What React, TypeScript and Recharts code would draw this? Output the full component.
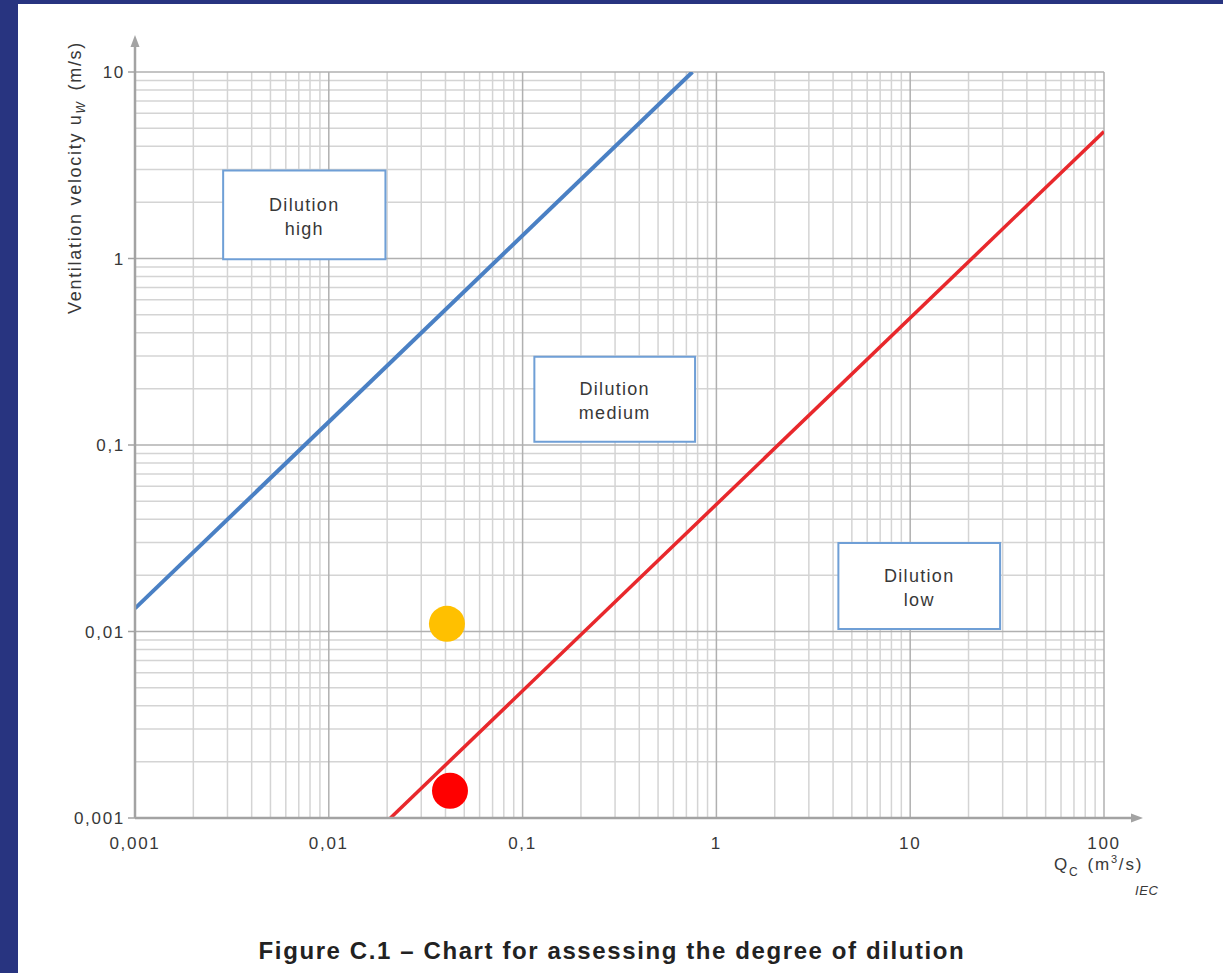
import React from 'react';
import { ComposedChart, Line, Scatter, XAxis, YAxis, ReferenceLine, ReferenceArea, CartesianGrid } from 'recharts';

// ---- data ----
const xDecades = [0.001, 0.01, 0.1, 1, 10, 100];
const xTickLabels = ['0,001', '0,01', '0,1', '1', '10', '100'];
const yDecades = [0.001, 0.01, 0.1, 1, 10];
const yTickLabels = ['0,001', '0,01', '0,1', '1', '10'];
const minorSteps = [2, 3, 4, 5, 6, 7, 8, 9];

// boundary high / medium dilution
const highDilutionLimit = [
  { q: 0.001, u: 0.0133 },
  { q: 0.752, u: 10 },
];
// boundary medium / low dilution
const lowDilutionLimit = [
  { q: 0.0208, u: 0.001 },
  { q: 100, u: 4.8 },
];
const caseOrange = [{ q: 0.0407, u: 0.011 }];
const caseRed = [{ q: 0.0422, u: 0.0014 }];

const zoneNames = [
  ['Dilution', 'high'],
  ['Dilution', 'medium'],
  ['Dilution', 'low'],
];
const zoneQ = [
  [0.00285, 0.0196],
  [0.115, 0.776],
  [4.26, 29.1],
];
const zoneU = [
  [0.99, 2.96],
  [0.104, 0.297],
  [0.0103, 0.0298],
];

// axis arrow tips (data units, just outside the domain)
const yArrowTip = 15.8;
const xArrowTip = 159;

// ---- helpers ----
const FONT = 'Liberation Sans, Arial, sans-serif';
const TXT = '#383838';
const X_DOMAIN = [0.001, 100];
const Y_DOMAIN = [0.001, 10];
const xMinor = xDecades.slice(0, -1).flatMap((d) => minorSteps.map((s) => +(d * s).toPrecision(3)));
const yMinor = yDecades.slice(0, -1).flatMap((d) => minorSteps.map((s) => +(d * s).toPrecision(3)));

const labelFor = (vals: number[], labels: string[], v: number) => {
  const i = vals.findIndex((d) => Math.abs(d - v) / d < 1e-6);
  return i >= 0 ? labels[i] : '';
};

const logPos = (v: number, dom: number[], start: number, size: number, invert: boolean) => {
  const t = (Math.log10(v) - Math.log10(dom[0])) / (Math.log10(dom[1]) - Math.log10(dom[0]));
  return invert ? start + size * (1 - t) : start + size * t;
};

const vGen = (vals: number[]) => (p: any) => {
  const sc = p && p.xAxis && typeof p.xAxis.scale === 'function' ? p.xAxis.scale : null;
  return vals.map((v) => (sc ? sc(v) : logPos(v, X_DOMAIN, p.offset.left, p.offset.width, false)));
};
const hGen = (vals: number[]) => (p: any) => {
  const sc = p && p.yAxis && typeof p.yAxis.scale === 'function' ? p.yAxis.scale : null;
  return vals.map((v) => (sc ? sc(v) : logPos(v, Y_DOMAIN, p.offset.top, p.offset.height, true)));
};

const XTick = (props: any) => {
  const { x, y, payload } = props;
  return (
    <text x={x} y={y} dy="0.71em" textAnchor="middle" fill={TXT} fontSize={17} letterSpacing={1.7} fontFamily={FONT}>
      {labelFor(xDecades, xTickLabels, payload.value)}
    </text>
  );
};
const YTick = (props: any) => {
  const { x, y, payload } = props;
  return (
    <text x={x} y={y} dy="0.36em" textAnchor="end" fill={TXT} fontSize={17} letterSpacing={1.7} fontFamily={FONT}>
      {labelFor(yDecades, yTickLabels, payload.value)}
    </text>
  );
};

const arrowShape = (props: any) => {
  const { x1, y1, x2, y2 } = props;
  const dx = x2 - x1;
  const dy = y2 - y1;
  const len = Math.sqrt(dx * dx + dy * dy) || 1;
  const ux = dx / len;
  const uy = dy / len;
  const hl = 12;
  const hw = 4.5;
  const bx = x2 - ux * hl;
  const by = y2 - uy * hl;
  const pts = `${x2},${y2} ${bx - uy * hw},${by + ux * hw} ${bx + uy * hw},${by - ux * hw}`;
  return (
    <g>
      <line x1={x1} y1={y1} x2={bx} y2={by} stroke="#a3a3a3" strokeWidth={2.5} />
      <polygon points={pts} fill="#a3a3a3" />
    </g>
  );
};

const zoneLabel = (lines: string[]) => (props: any) => {
  const vb = props.viewBox || {};
  const cx = vb.x + vb.width / 2;
  const cy = vb.y + vb.height / 2;
  return (
    <g>
      <text x={cx} y={cy - 4} textAnchor="middle" fill={TXT} fontSize={18} letterSpacing={1.3} fontFamily={FONT}>
        {lines[0]}
      </text>
      <text x={cx} y={cy + 20} textAnchor="middle" fill={TXT} fontSize={18} letterSpacing={1.3} fontFamily={FONT}>
        {lines[1]}
      </text>
    </g>
  );
};

const dot = (color: string) => (p: any) => <circle cx={p.cx} cy={p.cy} r={18} fill={color} />;

export default function App() {
  return (
    <div style={{ position: 'absolute', left: 0, top: 0, width: 1223, height: 973, background: '#283480', overflow: 'hidden' }}>
      <div style={{ position: 'absolute', left: 18, top: 4, width: 1205, height: 969, background: '#ffffff' }} />
      <div style={{ position: 'absolute', left: 0, top: 0 }}>
        <ComposedChart width={1223} height={973} margin={{ top: 72, right: 119, bottom: 115, left: 75 }}>
          <CartesianGrid
            stroke="#d4d4d4"
            strokeWidth={1.5}
            verticalCoordinatesGenerator={vGen(xMinor)}
            horizontalCoordinatesGenerator={hGen(yMinor)}
          />
          <CartesianGrid
            stroke="#b0b0b0"
            strokeWidth={1.5}
            verticalCoordinatesGenerator={vGen(xDecades)}
            horizontalCoordinatesGenerator={hGen(yDecades)}
          />
          <XAxis
            dataKey="q"
            type="number"
            scale="log"
            domain={X_DOMAIN}
            allowDataOverflow
            ticks={xDecades}
            interval={0}
            height={40}
            axisLine={false}
            tickLine={false}
            tickMargin={13}
            tick={<XTick />}
          />
          <YAxis
            dataKey="u"
            type="number"
            scale="log"
            domain={Y_DOMAIN}
            allowDataOverflow
            ticks={yDecades}
            interval={0}
            width={60}
            axisLine={false}
            tickLine={{ stroke: '#a3a3a3', strokeWidth: 1.5 }}
            tickSize={7}
            tickMargin={3}
            tick={<YTick />}
          />
          {zoneNames.map((n, i) => (
            <ReferenceArea
              key={'z' + i}
              x1={zoneQ[i][0]}
              x2={zoneQ[i][1]}
              y1={zoneU[i][0]}
              y2={zoneU[i][1]}
              fill="#ffffff"
              fillOpacity={1}
              stroke="#6f9fd6"
              strokeWidth={2}
              label={{ content: zoneLabel(n) }}
            />
          ))}
          <Line data={highDilutionLimit} dataKey="u" type="linear" stroke="#4a80c4" strokeWidth={4} dot={false} isAnimationActive={false} />
          <Line data={lowDilutionLimit} dataKey="u" type="linear" stroke="#e8282c" strokeWidth={3.5} dot={false} isAnimationActive={false} />
          <Scatter data={caseOrange} dataKey="u" fill="#ffc000" shape={dot('#ffc000')} isAnimationActive={false} />
          <Scatter data={caseRed} dataKey="u" fill="#ff0000" shape={dot('#ff0000')} isAnimationActive={false} />
          <ReferenceLine
            segment={[{ x: 0.001, y: 0.001 }, { x: 0.001, y: yArrowTip }]}
            ifOverflow="visible"
            shape={arrowShape}
          />
          <ReferenceLine
            segment={[{ x: 0.001, y: 0.001 }, { x: xArrowTip, y: 0.001 }]}
            ifOverflow="visible"
            shape={arrowShape}
          />
        </ComposedChart>
      </div>
      <svg width={1223} height={973} style={{ position: 'absolute', left: 0, top: 0, pointerEvents: 'none' }}>
        <text transform="translate(81,177.5) rotate(-90)" textAnchor="middle" fill={TXT} fontSize={18} letterSpacing={1.7} fontFamily={FONT}>
          Ventilation velocity u
          <tspan fontSize={12} dy={4} fontStyle="italic">W</tspan>
          <tspan dx={10} dy={-4}>(m/s)</tspan>
        </text>
        <text x={1054} y={870} fill={TXT} fontSize={17} letterSpacing={1.8} fontFamily={FONT}>
          Q
          <tspan fontSize={12} dy={6}>C</tspan>
          <tspan dx={8} dy={-6}>(m</tspan>
          <tspan fontSize={11} dy={-7}>3</tspan>
          <tspan dy={7}>/s)</tspan>
        </text>
        <text x={1135} y={895} fill={TXT} fontSize={13} letterSpacing={0.6} fontStyle="italic" fontFamily={FONT}>
          IEC
        </text>
        <text x={612} y={959} textAnchor="middle" fill="#222" fontSize={24} fontWeight="bold" letterSpacing={1.6} fontFamily={FONT}>
          Figure C.1 – Chart for assessing the degree of dilution
        </text>
      </svg>
    </div>
  );
}
